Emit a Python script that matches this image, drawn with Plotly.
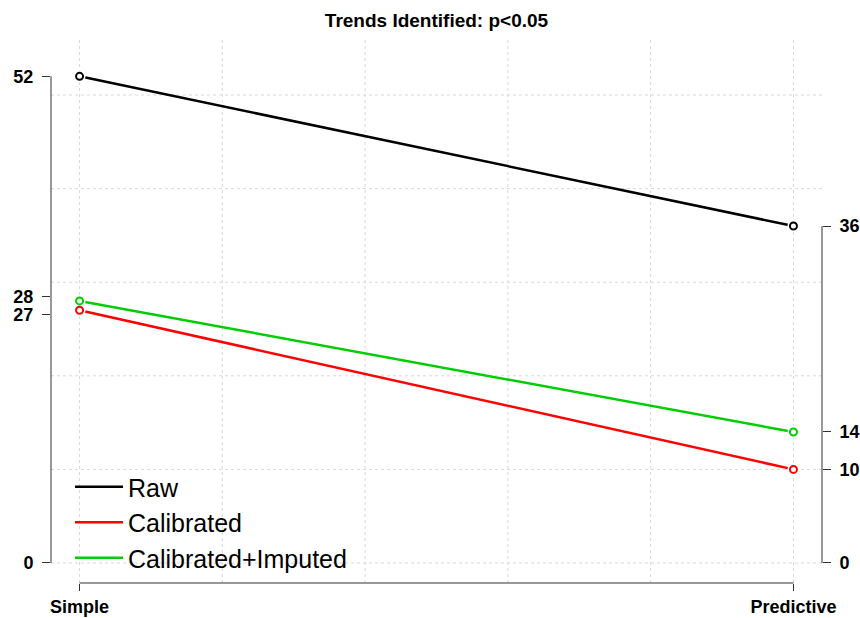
import plotly.graph_objects as go
import numpy as np

# ---------------- data ----------------
categories = ["Simple", "Predictive"]
series_names = ["Raw", "Calibrated", "Calibrated+Imputed"]
simple_values = [52, 27, 28]
predictive_values = [36, 10, 14]
series_colors = ["#000000", "#FF0000", "#00CD00"]
chart_title = "Trends Identified: p<0.05"

x_pos = [0, 1]
x_range = [-0.04, 1.04]
y_range = [-2.14, 55.88]
FONT = "Liberation Sans, Arial, sans-serif"


def spread(vals, gap):
    """Push tick label positions apart when labels would overlap."""
    order = np.argsort(vals)
    pos = np.array(vals, dtype=float)[order]
    for _ in range(20):
        for i in range(1, len(pos)):
            if pos[i] - pos[i - 1] < gap:
                mid = (pos[i] + pos[i - 1]) / 2
                pos[i - 1] = mid - gap / 2
                pos[i] = mid + gap / 2
    out = np.empty_like(pos)
    out[order] = pos
    return list(out)


fig = go.Figure()

# lines (with legend)
for name, a, b, c in zip(series_names, simple_values, predictive_values, series_colors):
    fig.add_trace(go.Scatter(x=x_pos, y=[a, b], mode="lines", name=name,
                             line=dict(color=c, width=2.5)))
# gaps around points (R type="b")
for name, a, b, c in zip(series_names, simple_values, predictive_values, series_colors):
    fig.add_trace(go.Scatter(x=x_pos, y=[a, b], mode="markers", showlegend=False,
                             hoverinfo="skip",
                             marker=dict(symbol="circle", size=12, color="white",
                                         line=dict(width=0))))
# open circle points
for name, a, b, c in zip(series_names, simple_values, predictive_values, series_colors):
    fig.add_trace(go.Scatter(x=x_pos, y=[a, b], mode="markers", showlegend=False,
                             name=name,
                             marker=dict(symbol="circle-open", size=7, color=c,
                                         line=dict(width=2, color=c))))

# invisible trace to activate right axis
fig.add_trace(go.Scatter(x=[None], y=[None], yaxis="y2", showlegend=False,
                         hoverinfo="skip"))

shapes = []
grid_style = dict(color="#d8d8d8", width=1, dash="dot")
for gx in np.arange(0, 1.0001, 0.2):
    shapes.append(dict(type="line", xref="x", yref="paper", x0=gx, x1=gx, y0=0, y1=1,
                       line=grid_style, layer="below"))
for gy in range(0, 51, 10):
    shapes.append(dict(type="line", xref="paper", yref="y", x0=0, x1=1, y0=gy, y1=gy,
                       line=grid_style, layer="below"))

axis_line = dict(color="#333333", width=1)
left_ticks = sorted(set([0] + simple_values))
right_ticks = sorted(set([0] + predictive_values))
shapes.append(dict(type="line", xref="paper", yref="y", x0=0, x1=0,
                   y0=min(left_ticks), y1=max(left_ticks), line=axis_line))
shapes.append(dict(type="line", xref="paper", yref="y", x0=1, x1=1,
                   y0=min(right_ticks), y1=max(right_ticks), line=axis_line))
shapes.append(dict(type="line", xref="x", yref="paper", x0=x_pos[0], x1=x_pos[-1],
                   y0=0, y1=0, line=axis_line))

tick_font = dict(family=FONT, size=18, color="black", weight="bold")

fig.update_layout(
    width=860, height=618,
    margin=dict(l=51, r=38, t=40, b=35, autoexpand=False),
    paper_bgcolor="white", plot_bgcolor="white",
    title=dict(text="<b>" + chart_title + "</b>", x=436.5 / 860, xanchor="center",
               y=1 - 20 / 618, yanchor="middle",
               font=dict(family=FONT, size=19, color="black")),
    xaxis=dict(range=x_range, tickvals=x_pos, ticktext=categories,
               ticks="outside", ticklen=7, tickcolor="#333333", tickwidth=1,
               showgrid=False, zeroline=False, showline=False, automargin=False,
               tickfont=tick_font, ticklabelstandoff=0),
    yaxis=dict(range=y_range, tickvals=spread(left_ticks, 2.0),
               ticktext=[str(v) for v in left_ticks],
               ticks="outside", ticklen=8, tickcolor="#333333", tickwidth=1,
               showgrid=False, zeroline=False, showline=False, automargin=False,
               tickfont=tick_font, ticklabelstandoff=5),
    yaxis2=dict(range=y_range, overlaying="y", side="right",
                tickvals=spread(right_ticks, 2.0),
                ticktext=[str(v) for v in right_ticks],
                ticks="outside", ticklen=8, tickcolor="#333333", tickwidth=1,
                showgrid=False, zeroline=False, showline=False, automargin=False,
                tickfont=tick_font, ticklabelstandoff=5),
    legend=dict(x=(70 - 51) / 771, y=(583 - 464) / 543, xanchor="left", yanchor="top",
                bgcolor="rgba(0,0,0,0)", borderwidth=0, itemwidth=48,
                font=dict(family=FONT, size=25, color="black")),
    shapes=shapes,
)

fig.write_html("out.html")
